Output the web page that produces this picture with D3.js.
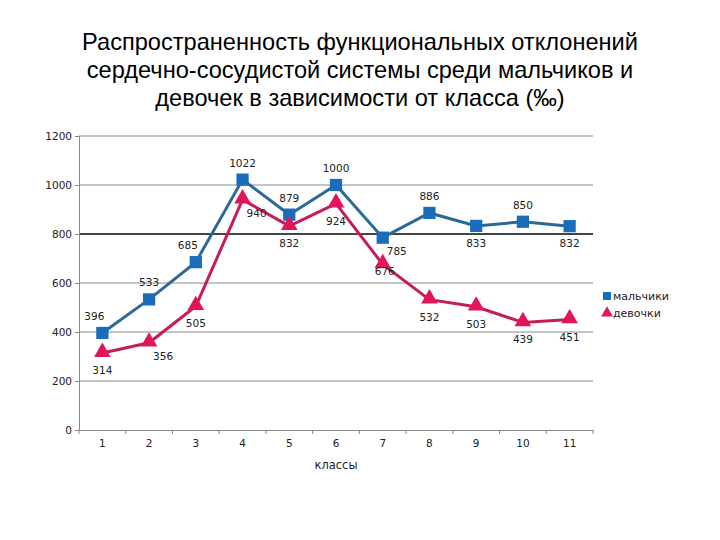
<!DOCTYPE html>
<html><head><meta charset="utf-8">
<script src="https://cdn.jsdelivr.net/npm/d3@7"></script>
<style>body{margin:0;background:#fff}svg{display:block}</style>
</head><body>
<svg id="c" width="720" height="540"></svg>
<script>
const classes = ["1","2","3","4","5","6","7","8","9","10","11"];
const boys = [396,533,685,1022,879,1000,785,886,833,850,832];
const girls = [314,356,505,940,832,924,676,532,503,439,451];
const yTicks = [0,200,400,600,800,1000,1200];
const seriesNames = ["мальчики","девочки"];
const titleLines = ["Распространенность функциональных отклонений","сердечно-сосудистой системы среди мальчиков и","девочек в зависимости от класса (‰)"];
const xTitle = "классы";
// label placement keys per point
const boysPos = ["tl","t","tl","t","t","t","br","t","b","t","b"];
const girlsPos = ["b","br","b","br","b","b","c","b","b","b","b"];

const svg = d3.select("#c");
const m = {l:79, r:593, t:136, b:430};
const x = d3.scaleBand().domain(classes).range([m.l, m.r]);
const y = d3.scaleLinear().domain([0,1200]).range([m.b, m.t]);
const cx = d => x(d) + x.bandwidth()/2;

svg.selectAll("text.title").data(titleLines).join("text")
  .attr("x",360).attr("y",(d,i)=>50+i*28).attr("text-anchor","middle")
  .style("font-family","'Liberation Sans', Arial, sans-serif").style("font-size","23.6px").attr("fill","#000").text(d=>d);

// grid
svg.append("g").selectAll("line").data(yTicks.filter(t=>t>0)).join("line")
  .attr("x1",m.l).attr("x2",m.r).attr("y1",d=>y(d)).attr("y2",d=>y(d))
  .attr("stroke",d=>d===800?"#444":"#888").attr("stroke-width",d=>d===800?2:1);

// y axis
const ya = svg.append("g").attr("transform",`translate(${m.l},0)`)
  .call(d3.axisLeft(y).tickValues(yTicks).tickFormat(d3.format("d")).tickSize(4).tickPadding(3));
ya.select(".domain").attr("stroke","#888");
ya.selectAll("line").attr("stroke","#888");
ya.selectAll("text").style("font-family","'DejaVu Sans', Verdana, sans-serif").style("font-size","10.5px").attr("fill","#222");

// x axis
const xa = svg.append("g").attr("transform",`translate(0,${m.b})`)
  .call(d3.axisBottom(x).tickSize(0).tickPadding(10));
xa.select(".domain").attr("stroke","#888");
xa.selectAll("line.bt").data(d3.range(classes.length+1)).join("line")
  .attr("x1",i=>m.l+i*x.bandwidth()).attr("x2",i=>m.l+i*x.bandwidth())
  .attr("y1",0).attr("y2",4).attr("stroke","#888");
xa.selectAll(".tick text").style("font-family","'DejaVu Sans', Verdana, sans-serif").style("font-size","10.5px").attr("fill","#222");

svg.append("text").attr("x",(m.l+m.r)/2).attr("y",469).attr("text-anchor","middle")
  .style("font-family","'DejaVu Sans', Verdana, sans-serif").style("font-size","11.5px").attr("fill","#222").text(xTitle);

const line = d3.line().x((d,i)=>cx(classes[i])).y(d=>y(d));
const blueLine="#2b6a98", blueMk="#1a6dbb", pinkLine="#c41c5c", pinkMk="#e0155c";

svg.append("path").datum(boys).attr("d",line).attr("fill","none").attr("stroke",blueLine).attr("stroke-width",3);
svg.append("path").datum(girls).attr("d",line).attr("fill","none").attr("stroke",pinkLine).attr("stroke-width",3);

const sq = d3.symbol().type(d3.symbolSquare).size(150);
const tri = d3.symbol().type(d3.symbolTriangle).size(120);
svg.selectAll("path.b").data(boys).join("path").attr("class","b")
  .attr("transform",(d,i)=>`translate(${cx(classes[i])},${y(d)})`).attr("d",sq).attr("fill",blueMk);
svg.selectAll("path.g").data(girls).join("path").attr("class","g")
  .attr("transform",(d,i)=>`translate(${cx(classes[i])},${y(d)-1})`).attr("d",tri).attr("fill",pinkMk);

const off = {t:[0,-13], tl:[-8,-13], b:[0,21], br:[14,17], c:[2,11]};
function labels(data,pos,cls){
  svg.selectAll("text."+cls).data(data).join("text").attr("class",cls)
    .attr("x",(d,i)=>cx(classes[i])+off[pos[i]][0]).attr("y",(d,i)=>y(d)+off[pos[i]][1])
    .attr("text-anchor","middle")
    .style("font-family","'DejaVu Sans', Verdana, sans-serif").style("font-size","10.5px").attr("fill","#222").text(d=>d);
}
labels(boys,boysPos,"lb");
labels(girls,girlsPos,"lg");

// legend
const lg = svg.append("g");
lg.append("path").attr("transform","translate(607,296)").attr("d",d3.symbol().type(d3.symbolSquare).size(64)).attr("fill",blueMk);
lg.append("path").attr("transform","translate(607,313)").attr("d",d3.symbol().type(d3.symbolTriangle).size(60)).attr("fill",pinkMk);
lg.selectAll("text").data(seriesNames).join("text").attr("x",613).attr("y",(d,i)=>300+i*17)
  .style("font-family","'DejaVu Sans', Verdana, sans-serif").style("font-size","11px").attr("fill","#222").text(d=>d);
</script>
</body></html>
